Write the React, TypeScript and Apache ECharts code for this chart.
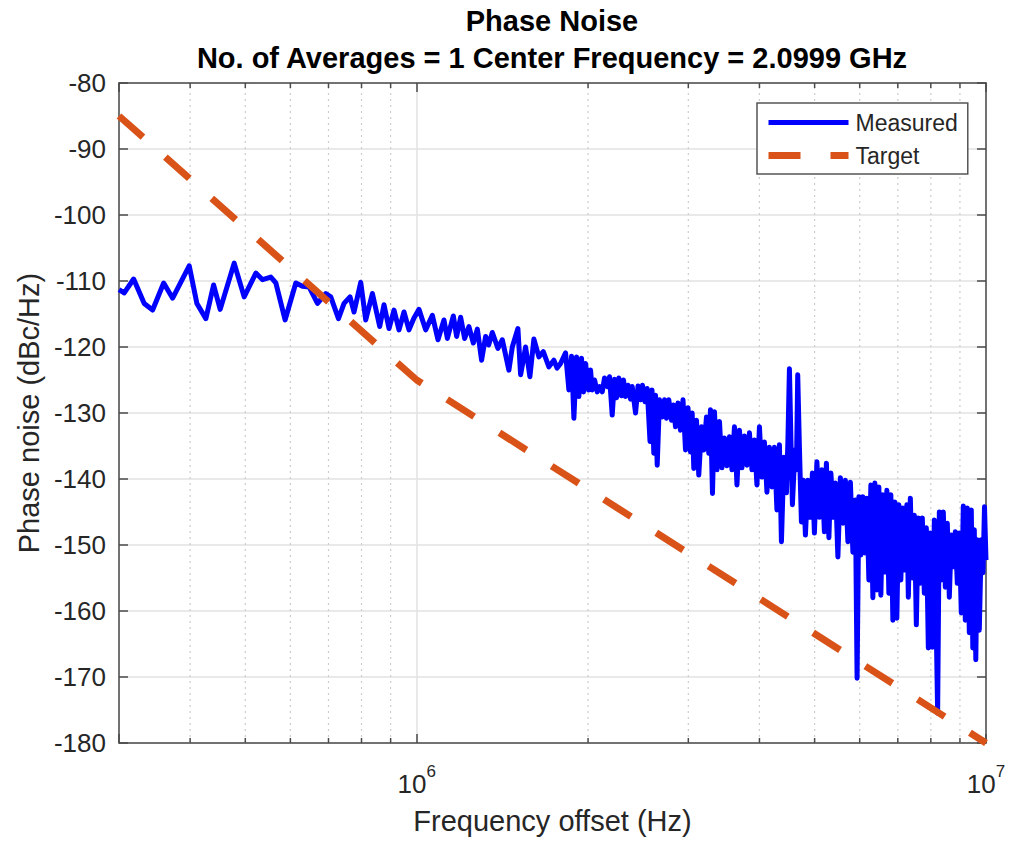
import React, { useEffect, useRef } from "react";
import * as echarts from "echarts";

const TITLE_LINE_1 = "Phase Noise";
const TITLE_LINE_2 = "No. of Averages = 1 Center Frequency = 2.0999 GHz";
const X_AXIS_NAME = "Frequency offset (Hz)";
const Y_AXIS_NAME = "Phase noise (dBc/Hz)";
const SERIES_NAMES = ["Measured", "Target"];

const X_MIN = 3e5;
const X_MAX = 1e7;
const Y_MIN = -180;
const Y_MAX = -80;
const Y_STEP = 10;
const MINOR_X_TICKS = [4e5, 5e5, 6e5, 7e5, 8e5, 9e5, 2e6, 3e6, 4e6, 5e6, 6e6, 7e6, 8e6, 9e6];

// Measured trace, frequency offsets in kHz and phase noise in dBc/Hz
const MEAS_A_KHZ = [300, 306.4, 318.3, 332.2, 343.7, 359.4, 372.7, 398.5, 411.1, 426.3, 439.8, 451.7, 478, 497.7, 521.8, 536.1, 554.4, 565.7, 587.3, 613.3, 630, 647.1, 669.5, 692.3, 706.4, 728.8, 745.4, 763.7, 776.2, 797.5, 813.7, 836, 861.1, 876.2, 894.1, 912.4, 931, 950, 969.4, 989.1];
const MEAS_A_DB = [-111.3, -111.8, -109.7, -113.4, -114.4, -110.3, -112.6, -107.7, -113.4, -115.7, -110.6, -114.3, -107.3, -112.4, -108.8, -109.8, -109.4, -110.3, -115.9, -110.3, -110.8, -110.9, -113.4, -111.9, -112.4, -115.7, -113.4, -112.4, -114.7, -110.2, -115.9, -111.9, -116.9, -113.6, -117.2, -114.4, -117.4, -114.7, -117.4, -115.6];

const MEAS_B_KHZ = [1009.3, 1037, 1065.5, 1089.9, 1116.6, 1132.1, 1159.8, 1175.4, 1194.5, 1214, 1235.3, 1257.5, 1278, 1300.2, 1321.6, 1337.8, 1357.9, 1389, 1413.9, 1452.1, 1472.2, 1505.9, 1522.4, 1553.5, 1580.7, 1606.5, 1639.3, 1668.7, 1706.9, 1741.6, 1764.5, 1789.5, 1826.1, 1850.6];
const MEAS_B_DB = [-114.3, -117.4, -115.2, -118.9, -115.9, -118.7, -115.3, -118.4, -115.5, -118.7, -116.9, -119.4, -117.3, -122.0, -118.4, -119.7, -117.8, -120.2, -118.9, -123.5, -120.0, -117.2, -124.2, -120.0, -124.5, -118.8, -121.5, -120.7, -123.0, -122.0, -123.2, -122.5, -120.9, -126.5];

const MEAS_C_KHZ = [1870.8, 1888.5, 1909.1, 1926.9, 1947.8, 1963.6, 1979.9, 2004, 2020.3, 2033.8, 2053.2, 2075.8, 2095.1, 2118, 2137.8, 2161.3, 2181.4, 2205.2, 2226, 2244.1, 2265, 2289.6, 2308.2, 2327.3, 2350.9, 2374.7, 2390.9, 2423.3, 2447.9, 2472.6, 2492.6, 2518.1, 2540.6, 2569.4, 2590.2, 2609.2, 2627.3, 2645.4, 2670, 2699.3, 2724.5, 2746.7, 2772.4, 2802.8, 2825.5, 2848.5, 2877.4, 2906.6, 2936.3, 2966, 2996.1, 3026.4, 3047.3, 3067.2, 3100.8, 3129.7, 3163.9, 3193.6, 3228.7, 3259, 3281.4, 3308.1];
const MEAS_C_DB = [-121.4, -130.8, -121.5, -127.5, -121.7, -126.8, -122.5, -126.5, -123.5, -126.5, -125.0, -126.8, -126.0, -126.8, -124.7, -126.0, -124.5, -130.3, -124.9, -127.7, -124.7, -127.4, -125.0, -127.5, -125.8, -127.9, -126.0, -130.0, -125.9, -128.0, -125.8, -128.3, -126.3, -134.3, -126.5, -136.1, -127.3, -137.9, -128.0, -130.6, -128.0, -130.8, -128.0, -131.1, -128.8, -132.1, -128.5, -132.6, -128.0, -135.6, -129.2, -135.9, -130.0, -138.4, -131.1, -139.4, -132.1, -135.6, -130.6, -136.1, -129.5, -142.2];

const MEAS_D_KHZ = [3334.8, 3368.7, 3402.9, 3437.4, 3472.3, 3507.6, 3543.2, 3579.2, 3615.6, 3652.3, 3689.4, 3726.8, 3764.7, 3802.9, 3841.5, 3880.6, 3920, 3959.8, 4000, 4040.6, 4081.7, 4123.1, 4165, 4207.3, 4250, 4293.2, 4336.8, 4371.9, 4416.3, 4461.2, 4488.3, 4515.6, 4543.1, 4570.4, 4617.1, 4645.2, 4669.7, 4701.8, 4740, 4778.5, 4817.3, 4866.2, 4915.6, 4955.4, 4995.8, 5046.5, 5097.7, 5149.5, 5201.8, 5244, 5297.3, 5340.3, 5394.6, 5438.3, 5493.5, 5549.3, 5605.8, 5662.6, 5720.1, 5778.2, 5836.9, 5896.1, 5936.8, 5980.1];
const MEAS_D_DB = [-129.8, -138.6, -131.3, -138.3, -133.8, -138.0, -133.6, -138.6, -132.1, -140.9, -132.6, -138.3, -133.5, -137.9, -133.0, -138.6, -134.1, -140.9, -132.1, -139.7, -134.4, -142.0, -135.2, -141.2, -135.2, -144.7, -134.8, -149.5, -136.7, -142.1, -134.1, -123.3, -134.1, -143.9, -135.6, -138.6, -124.2, -135.2, -146.5, -140.2, -148.5, -140.2, -145.8, -139.1, -148.2, -137.4, -145.8, -138.6, -148.0, -137.6, -148.9, -139.1, -145.8, -140.6, -151.8, -139.8, -146.7, -140.2, -149.5, -140.5, -151.1, -143.2, -170.2, -142.7];

const MEAS_E_KHZ = [6028.7, 6077.6, 6126.9, 6176.6, 6226.8, 6277.3, 6328.3, 6379.6, 6431.4, 6483.6, 6536.3, 6589.5, 6642.8, 6696.7, 6751.1, 6805.9, 6861.2, 6916.7, 6972.9, 7029.5, 7086.5, 7144.2, 7202.1, 7260.5, 7304.6, 7364, 7423.4, 7484, 7544.7, 7606, 7667.7, 7729.6, 7792.7, 7855.9, 7919.7, 7984, 8048.5, 8114.1, 8163.4, 8223, 8279.7, 8346.7, 8414.6, 8483, 8551.8, 8621.3, 8691.2, 8761.6, 8832.9, 8904.5, 8976.9, 9049.6, 9123.1, 9197.2, 9271.8, 9347.1, 9422.8, 9480.5, 9537.9, 9595.9, 9654.2, 9732.8, 9811.4, 9879.5, 9939.5, 10000];
const MEAS_E_DB = [-151.5, -142.7, -151.2, -142.9, -155.3, -140.9, -158.0, -140.6, -156.8, -141.2, -157.6, -142.4, -154.1, -141.7, -157.3, -142.4, -161.4, -143.5, -161.1, -143.9, -155.3, -144.4, -153.8, -143.9, -157.9, -142.9, -155.0, -145.5, -162.1, -145.9, -155.8, -145.9, -157.3, -147.4, -165.6, -148.2, -165.5, -146.2, -158.3, -175.5, -145.0, -155.3, -145.0, -156.4, -146.7, -157.9, -148.5, -153.3, -148.0, -155.8, -148.2, -160.3, -144.1, -161.4, -144.4, -163.3, -144.7, -165.6, -147.7, -167.4, -149.2, -162.9, -149.2, -154.2, -144.2, -152.3];

const TARGET_FREQ_HZ = [3e5, 1e6, 1e7];
const TARGET_DB = [-85, -125, -180];

const FONT = "'Liberation Sans', Arial, Helvetica, sans-serif";
const TEXT_COLOR = "#262626";
const AXIS_COLOR = "#4a4a4a";
const BLUE = "#0000ff";
const ORANGE = "#d95319";

function pairs(khz: number[], db: number[]) {
  return khz.map((f, i) => [f * 1000, db[i]]);
}

export default function App() {
  const ref = useRef<HTMLDivElement>(null);

  useEffect(() => {
    if (!ref.current) return;
    const chart = echarts.init(ref.current, undefined, { renderer: "svg" });

    const measured = [
      ...pairs(MEAS_A_KHZ, MEAS_A_DB),
      ...pairs(MEAS_B_KHZ, MEAS_B_DB),
      ...pairs(MEAS_C_KHZ, MEAS_C_DB),
      ...pairs(MEAS_D_KHZ, MEAS_D_DB),
      ...pairs(MEAS_E_KHZ, MEAS_E_DB),
    ];
    const target = TARGET_FREQ_HZ.map((f, i) => [f, TARGET_DB[i]]);

    const xLabelFormatter = (v: number) => {
      const e = Math.log10(v);
      const r = Math.round(e);
      if (Math.abs(e - r) > 1e-6) return "";
      return `{b|10}{s|${r}}`;
    };

    const titleStyle = (text: string) => ({
      text,
      fontSize: 29,
      fontWeight: "bold",
      fontFamily: FONT,
      fill: "#000",
      align: "center",
      verticalAlign: "middle",
      textAlign: "center",
      textVerticalAlign: "middle",
    });

    chart.setOption({
      animation: false,
      backgroundColor: "#ffffff",
      graphic: [
        { type: "text", x: 552, y: 21, style: titleStyle(TITLE_LINE_1) },
        { type: "text", x: 552, y: 58, style: titleStyle(TITLE_LINE_2) },
      ],
      legend: {
        data: SERIES_NAMES,
        orient: "vertical",
        left: 757,
        top: 103,
        padding: [8, 10, 7, 8],
        itemGap: 10,
        itemWidth: 80,
        itemHeight: 24,
        selectedMode: false,
        backgroundColor: "#ffffff",
        borderColor: "#555",
        borderWidth: 1.5,
        borderRadius: 0,
        itemStyle: { opacity: 0 },
        lineStyle: { width: "inherit", type: "inherit" },
        textStyle: { fontSize: 23, fontFamily: FONT, color: TEXT_COLOR, padding: [0, 0, 0, 2] },
      },
      grid: { left: 119, top: 83, width: 867, height: 660, containLabel: false },
      xAxis: [
        {
          type: "log",
          logBase: 10,
          min: X_MIN,
          max: X_MAX,
          position: "bottom",
          name: X_AXIS_NAME,
          nameLocation: "middle",
          nameGap: 63,
          nameTextStyle: { fontSize: 29, fontFamily: FONT, color: TEXT_COLOR },
          axisLine: { show: true, onZero: false, lineStyle: { color: AXIS_COLOR, width: 1.5 } },
          axisTick: { show: true, inside: true, length: 9, lineStyle: { color: AXIS_COLOR, width: 1.5 } },
          axisLabel: {
            margin: 20,
            formatter: xLabelFormatter,
            showMinLabel: true,
            showMaxLabel: true,
            hideOverlap: false,
            color: TEXT_COLOR,
            rich: {
              b: { fontSize: 26, fontFamily: FONT, color: TEXT_COLOR, lineHeight: 34, verticalAlign: "bottom" },
              s: { fontSize: 17, fontFamily: FONT, color: TEXT_COLOR, lineHeight: 14, verticalAlign: "top" },
            },
          },
          splitLine: { show: true, lineStyle: { color: "#e2e2e2", width: 1.5 } },
        },
        {
          type: "log",
          logBase: 10,
          min: X_MIN,
          max: X_MAX,
          position: "top",
          axisLine: { show: true, onZero: false, lineStyle: { color: AXIS_COLOR, width: 1.5 } },
          axisTick: { show: true, inside: true, length: 9, lineStyle: { color: AXIS_COLOR, width: 1.5 } },
          axisLabel: { show: false },
          splitLine: { show: false },
        },
      ],
      yAxis: [
        {
          type: "value",
          min: Y_MIN,
          max: Y_MAX,
          interval: Y_STEP,
          position: "left",
          name: Y_AXIS_NAME,
          nameLocation: "middle",
          nameGap: 74,
          nameTextStyle: { fontSize: 29, fontFamily: FONT, color: TEXT_COLOR },
          axisLine: { show: true, onZero: false, lineStyle: { color: AXIS_COLOR, width: 1.5 } },
          axisTick: { show: true, inside: true, length: 9, lineStyle: { color: AXIS_COLOR, width: 1.5 } },
          axisLabel: { margin: 13, fontSize: 26, fontFamily: FONT, color: TEXT_COLOR },
          splitLine: { show: true, lineStyle: { color: "#e2e2e2", width: 1.5 } },
        },
        {
          type: "value",
          min: Y_MIN,
          max: Y_MAX,
          interval: Y_STEP,
          position: "right",
          axisLine: { show: true, onZero: false, lineStyle: { color: AXIS_COLOR, width: 1.5 } },
          axisTick: { show: true, inside: true, length: 9, lineStyle: { color: AXIS_COLOR, width: 1.5 } },
          axisLabel: { show: false },
          splitLine: { show: false },
        },
      ],
      series: [
        {
          type: "custom",
          silent: true,
          z: 1,
          xAxisIndex: 0,
          yAxisIndex: 0,
          data: MINOR_X_TICKS.map((f) => [f, Y_MIN]),
          encode: { x: 0, y: 1 },
          renderItem: (params: any, api: any) => {
            const f = api.value(0);
            const bot = api.coord([f, Y_MIN]);
            const top = api.coord([f, Y_MAX]);
            return {
              type: "group",
              children: [
                {
                  type: "line",
                  shape: { x1: bot[0], y1: bot[1], x2: top[0], y2: top[1] },
                  style: { stroke: "#cdcdcd", lineWidth: 1.2, lineDash: [2, 4] },
                },
                {
                  type: "line",
                  shape: { x1: bot[0], y1: bot[1], x2: bot[0], y2: bot[1] - 5 },
                  style: { stroke: AXIS_COLOR, lineWidth: 1.5 },
                },
                {
                  type: "line",
                  shape: { x1: top[0], y1: top[1], x2: top[0], y2: top[1] + 5 },
                  style: { stroke: AXIS_COLOR, lineWidth: 1.5 },
                },
              ],
            };
          },
        },
        {
          name: SERIES_NAMES[0],
          type: "line",
          data: measured,
          symbol: "none",
          showSymbol: false,
          z: 3,
          clip: true,
          lineStyle: { color: BLUE, width: 5, join: "round" },
          itemStyle: { color: BLUE },
        },
        {
          name: SERIES_NAMES[1],
          type: "line",
          data: target,
          symbol: "none",
          showSymbol: false,
          z: 4,
          clip: true,
          lineStyle: { color: ORANGE, width: 7, type: [32, 30] },
          itemStyle: { color: ORANGE },
        },
      ],
    });

    return () => {
      chart.dispose();
    };
  }, []);

  return (
    <div
      ref={ref}
      style={{ position: "absolute", left: 0, top: 0, width: 1010, height: 841, background: "#fff" }}
    />
  );
}
